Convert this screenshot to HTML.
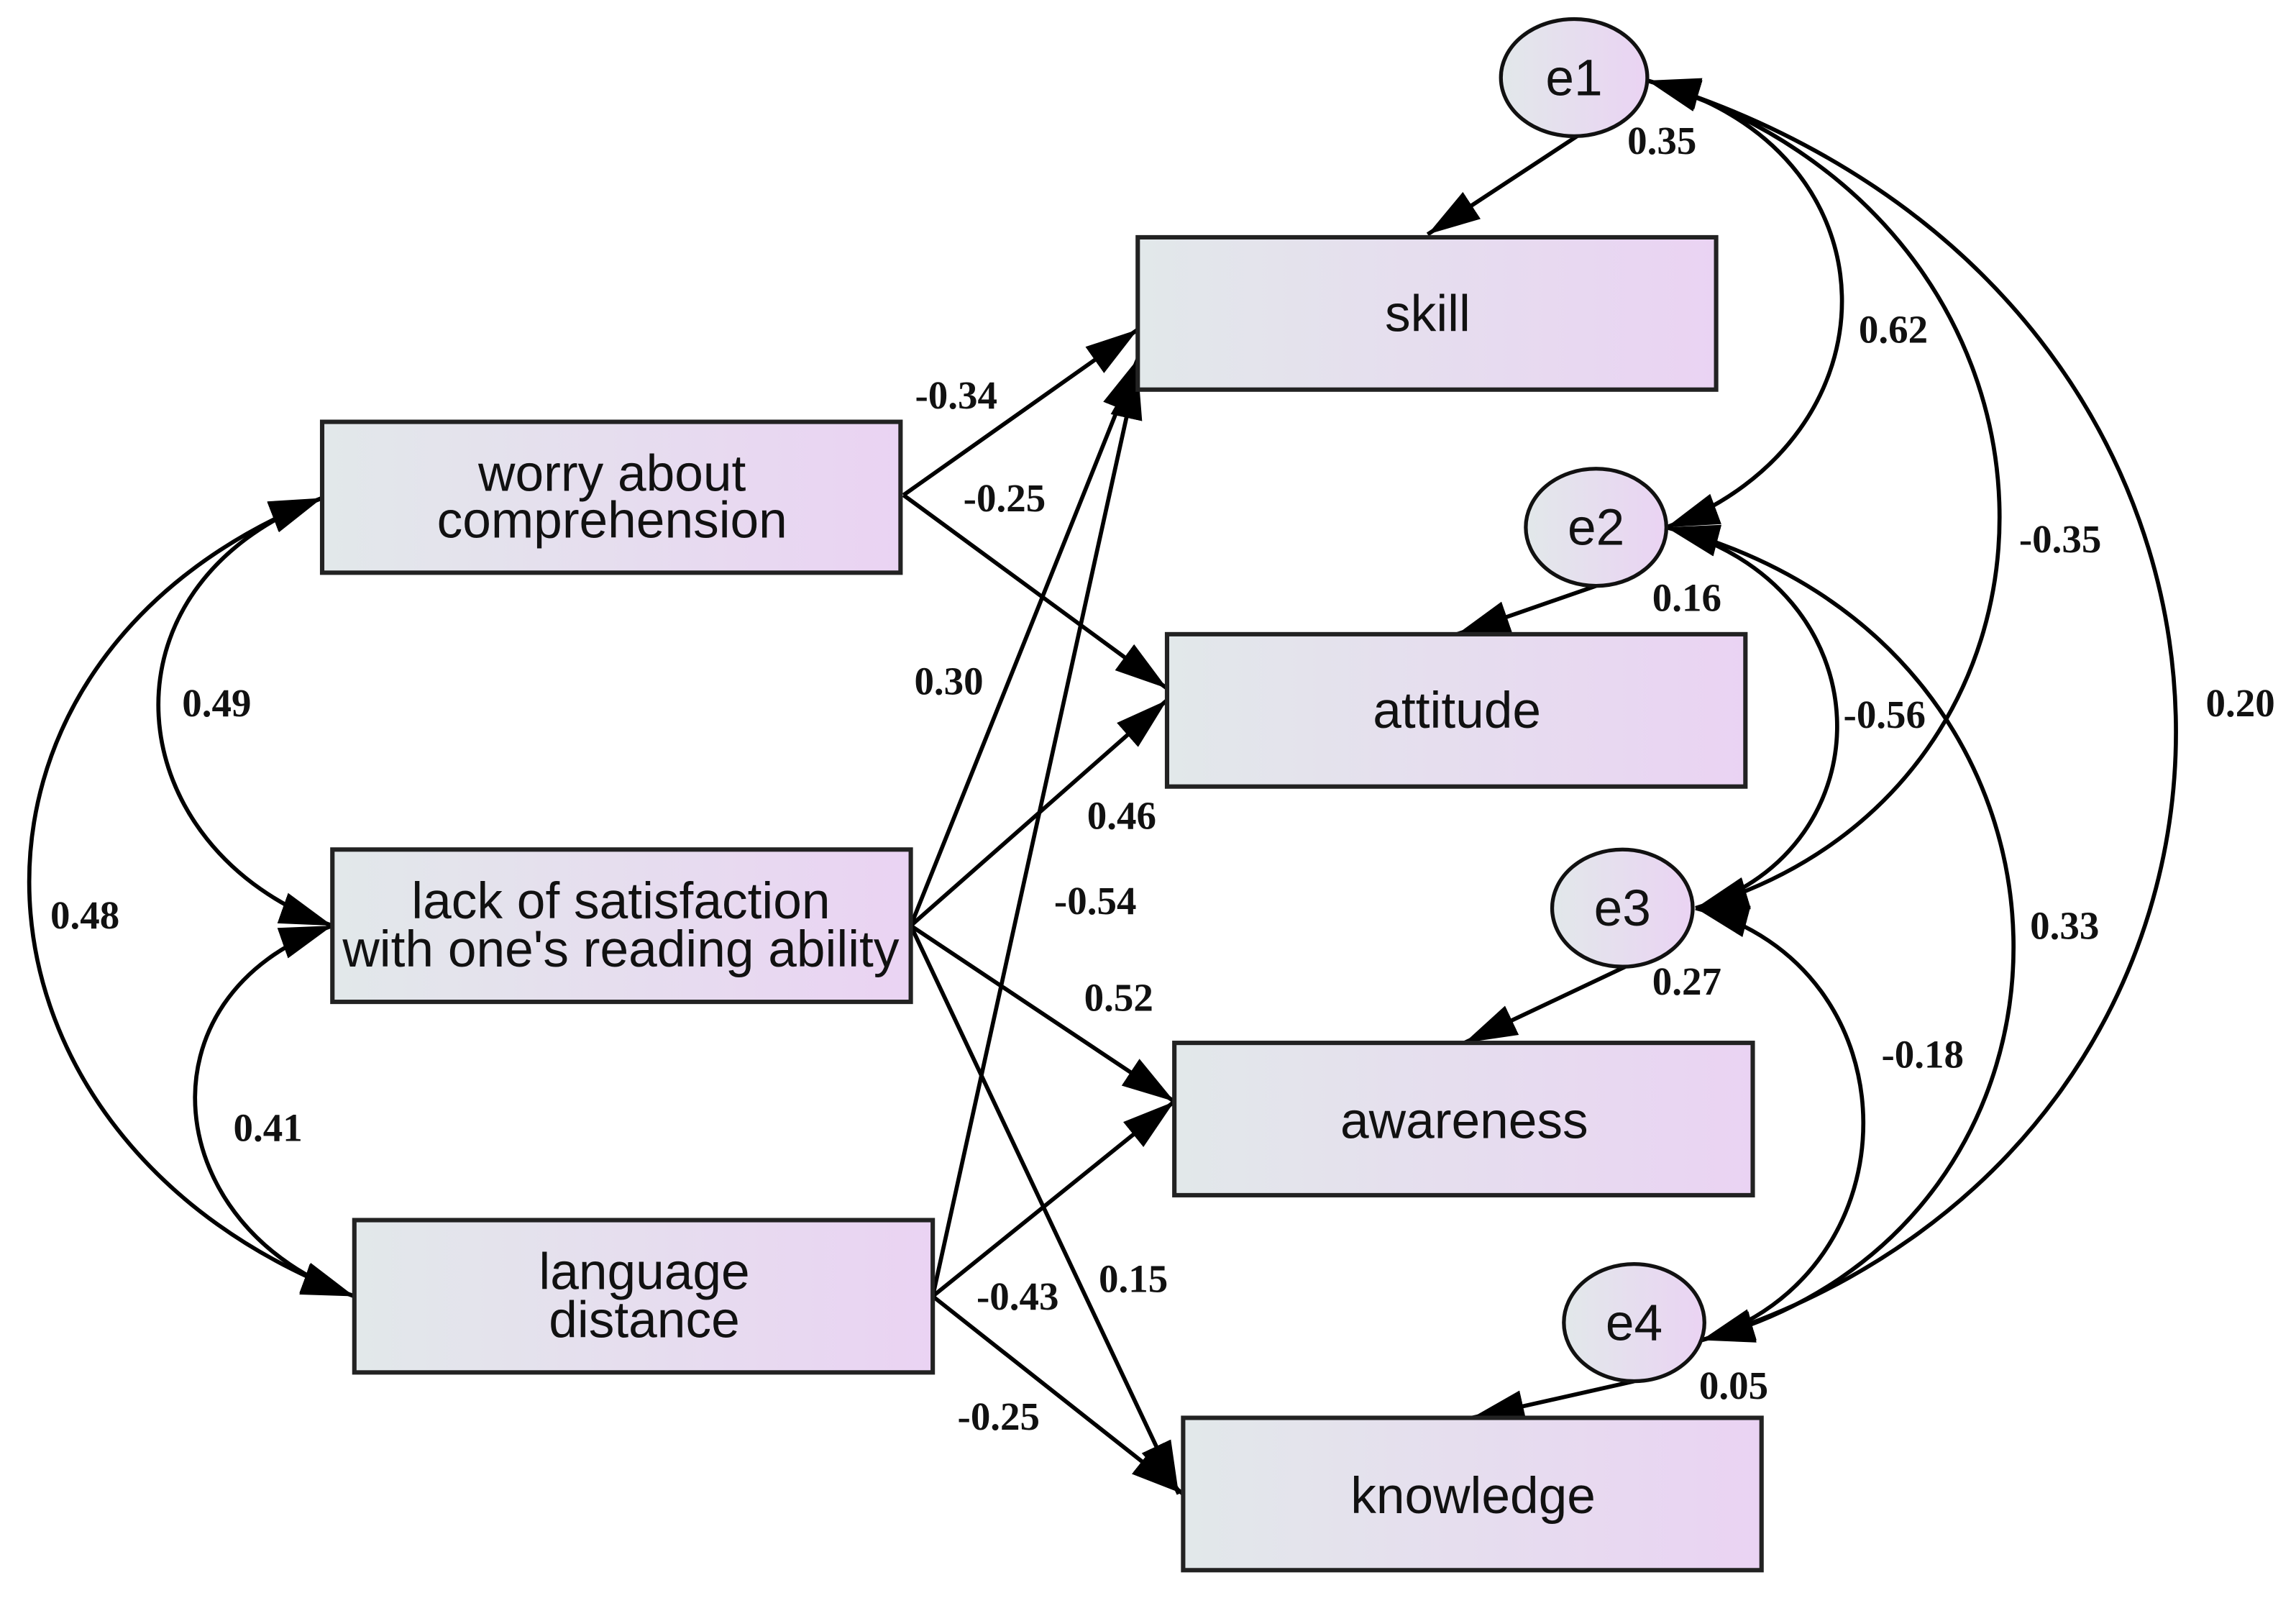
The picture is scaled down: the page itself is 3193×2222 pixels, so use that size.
<!DOCTYPE html>
<html><head><meta charset="utf-8"><style>
html,body{margin:0;padding:0;background:#fff;}
svg{display:block;}
.box{stroke:#222;stroke-width:3;fill:url(#g);}
.el{stroke:#111;stroke-width:2.6;fill:url(#g);}
.ln{stroke:#000;stroke-width:2.8;fill:none;}
.bt{font-family:"Liberation Sans",sans-serif;font-size:35px;fill:#111;text-anchor:middle;}
.lb{font-family:"Liberation Serif",serif;font-weight:bold;font-size:27px;fill:#111;text-anchor:middle;}
</style></head><body>
<svg width="3193" height="2222" viewBox="0 0 1568 1091" preserveAspectRatio="none" xmlns="http://www.w3.org/2000/svg">
<defs>
<linearGradient id="g" x1="0" x2="1" y1="0" y2="0"><stop offset="0" stop-color="#e2e8ea"/><stop offset="1" stop-color="#ead3f3"/></linearGradient>
<marker id="a" markerUnits="userSpaceOnUse" markerWidth="40" markerHeight="26" refX="36" refY="13" orient="auto-start-reverse"><path d="M0,2 L36,13 L0,24 Z" fill="#000"/></marker>
</defs>
<g class="ln">
<line x1="1077" y1="93" x2="975" y2="160" marker-end="url(#a)"/>
<line x1="1090" y1="400" x2="995" y2="433" marker-end="url(#a)"/>
<line x1="1110" y1="660" x2="1000" y2="712" marker-end="url(#a)"/>
<line x1="1116" y1="943" x2="1005" y2="968" marker-end="url(#a)"/>
<line x1="617" y1="338" x2="777" y2="225" marker-end="url(#a)"/>
<line x1="617" y1="338" x2="797" y2="470" marker-end="url(#a)"/>
<line x1="622" y1="632" x2="777" y2="245" marker-end="url(#a)"/>
<line x1="622" y1="632" x2="797" y2="478" marker-end="url(#a)"/>
<line x1="622" y1="632" x2="802" y2="752" marker-end="url(#a)"/>
<line x1="622" y1="632" x2="805" y2="1020" marker-end="url(#a)"/>
<line x1="637" y1="885" x2="777" y2="250" marker-end="url(#a)"/>
<line x1="637" y1="885" x2="802" y2="752" marker-end="url(#a)"/>
<line x1="637" y1="885" x2="808" y2="1020" marker-end="url(#a)"/>
<path d="M220,340 C60,400 80,580 227,632" marker-start="url(#a)" marker-end="url(#a)"/>
<path d="M227,632 C90,680 110,840 242,885" marker-start="url(#a)" marker-end="url(#a)"/>
<path d="M220,340 C-60,450 -40,780 242,885" marker-start="url(#a)" marker-end="url(#a)"/>
<path d="M1125,55 C1300,100 1300,300 1138,360" marker-start="url(#a)" marker-end="url(#a)"/>
<path d="M1125,55 C1440,150 1440,540 1158,620" marker-start="url(#a)" marker-end="url(#a)"/>
<path d="M1125,55 C1600,200 1600,780 1162,915" marker-start="url(#a)" marker-end="url(#a)"/>
<path d="M1138,360 C1290,400 1290,580 1158,620" marker-start="url(#a)" marker-end="url(#a)"/>
<path d="M1138,360 C1450,440 1450,840 1162,915" marker-start="url(#a)" marker-end="url(#a)"/>
<path d="M1158,620 C1310,660 1310,870 1162,915" marker-start="url(#a)" marker-end="url(#a)"/>
</g>
<rect class="box" x="777" y="162" width="395" height="104"/>
<rect class="box" x="220" y="288" width="395" height="103"/>
<rect class="box" x="797" y="433" width="395" height="104"/>
<rect class="box" x="227" y="580" width="395" height="104"/>
<rect class="box" x="802" y="712" width="395" height="104"/>
<rect class="box" x="242" y="833" width="395" height="104"/>
<rect class="box" x="808" y="968" width="395" height="104"/>
<ellipse class="el" cx="1075" cy="53" rx="50" ry="40"/>
<ellipse class="el" cx="1090" cy="360" rx="48" ry="40"/>
<ellipse class="el" cx="1108" cy="620" rx="48" ry="40"/>
<ellipse class="el" cx="1116" cy="903" rx="48" ry="40"/>
<text class="bt" x="975" y="226">skill</text>
<text class="bt" x="418" y="335">worry about</text>
<text class="bt" x="418" y="367">comprehension</text>
<text class="bt" x="995" y="497">attitude</text>
<text class="bt" x="424" y="627">lack of satisfaction</text>
<text class="bt" x="424" y="660">with one's reading ability</text>
<text class="bt" x="1000" y="777">awareness</text>
<text class="bt" x="440" y="880">language</text>
<text class="bt" x="440" y="913">distance</text>
<text class="bt" x="1006" y="1033">knowledge</text>
<text class="bt" x="1075" y="65">e1</text>
<text class="bt" x="1090" y="372">e2</text>
<text class="bt" x="1108" y="632">e3</text>
<text class="bt" x="1116" y="915">e4</text>
<g class="lb">
<text x="653" y="279">-0.34</text>
<text x="686" y="349">-0.25</text>
<text x="648" y="474">0.30</text>
<text x="766" y="566">0.46</text>
<text x="748" y="624">-0.54</text>
<text x="764" y="690">0.52</text>
<text x="774" y="882">0.15</text>
<text x="695" y="894">-0.43</text>
<text x="682" y="976">-0.25</text>
<text x="148" y="489">0.49</text>
<text x="183" y="779">0.41</text>
<text x="58" y="634">0.48</text>
<text x="1293" y="234">0.62</text>
<text x="1407" y="377">-0.35</text>
<text x="1530" y="489">0.20</text>
<text x="1287" y="497">-0.56</text>
<text x="1410" y="641">0.33</text>
<text x="1313" y="729">-0.18</text>
<text x="1135" y="105">0.35</text>
<text x="1152" y="417">0.16</text>
<text x="1152" y="679">0.27</text>
<text x="1184" y="955">0.05</text>
</g>
</svg>
</body></html>
